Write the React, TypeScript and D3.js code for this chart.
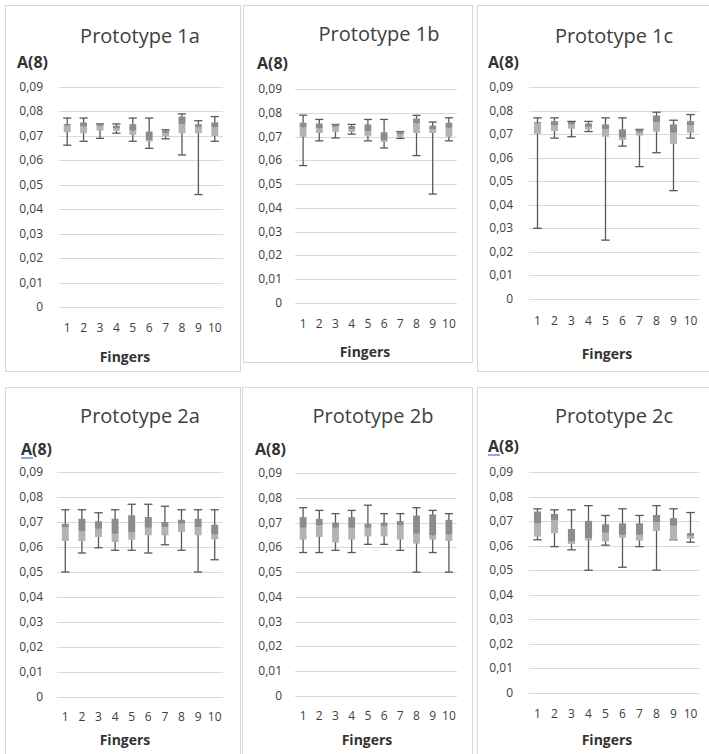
import React from "react";
import * as d3 from "d3";

// finger numbers on the x axis
const fingers = ["1", "2", "3", "4", "5", "6", "7", "8", "9", "10"];
const yTicks = [0, 0.01, 0.02, 0.03, 0.04, 0.05, 0.06, 0.07, 0.08, 0.09];

// each row: [min, q1, median, q3, max]
const proto1a = [
  [0.0662, 0.0715, 0.0742, 0.0749, 0.0773],
  [0.0678, 0.0711, 0.0738, 0.0755, 0.0773],
  [0.069, 0.0722, 0.0741, 0.0749, 0.0749],
  [0.0711, 0.0721, 0.0732, 0.0742, 0.0749],
  [0.0678, 0.0704, 0.0722, 0.0748, 0.0773],
  [0.0649, 0.0677, 0.0683, 0.0718, 0.0773],
  [0.0688, 0.0697, 0.0711, 0.0722, 0.0725],
  [0.0622, 0.0711, 0.0749, 0.0779, 0.079],
  [0.046, 0.0711, 0.0736, 0.0748, 0.0762],
  [0.0678, 0.07, 0.0736, 0.0755, 0.0779],
];
const proto1b = [
  [0.0578, 0.0699, 0.0739, 0.0758, 0.079],
  [0.0682, 0.0715, 0.0735, 0.0755, 0.0772],
  [0.0694, 0.072, 0.0741, 0.0751, 0.0751],
  [0.071, 0.072, 0.0732, 0.0744, 0.0751],
  [0.0682, 0.0701, 0.0723, 0.0751, 0.0772],
  [0.0652, 0.0677, 0.0685, 0.0718, 0.0772],
  [0.0692, 0.0697, 0.071, 0.0721, 0.0721],
  [0.062, 0.0715, 0.0755, 0.0776, 0.0789],
  [0.0458, 0.0715, 0.0732, 0.0746, 0.0761],
  [0.0682, 0.0699, 0.0737, 0.0758, 0.0779],
];
const proto1c = [
  [0.03, 0.0701, 0.0745, 0.0751, 0.0769],
  [0.0683, 0.0713, 0.0737, 0.0755, 0.0769],
  [0.0689, 0.0723, 0.0741, 0.0751, 0.0754],
  [0.0711, 0.072, 0.0731, 0.0745, 0.0754],
  [0.025, 0.0689, 0.0722, 0.0741, 0.0769],
  [0.0649, 0.0675, 0.0686, 0.072, 0.0769],
  [0.0562, 0.0694, 0.0708, 0.072, 0.072],
  [0.0621, 0.071, 0.0751, 0.0779, 0.0793],
  [0.046, 0.0659, 0.0706, 0.0741, 0.0759],
  [0.0683, 0.0706, 0.0737, 0.0755, 0.0783],
];
const proto2a = [
  [0.05, 0.0624, 0.068, 0.0693, 0.0749],
  [0.0576, 0.0624, 0.0663, 0.0713, 0.0749],
  [0.0597, 0.064, 0.0673, 0.0703, 0.0737],
  [0.0587, 0.062, 0.0653, 0.0713, 0.0749],
  [0.0587, 0.0629, 0.066, 0.0727, 0.0771],
  [0.0576, 0.0647, 0.0677, 0.072, 0.0771],
  [0.0609, 0.0647, 0.068, 0.07, 0.0763],
  [0.0587, 0.066, 0.0693, 0.0709, 0.0749],
  [0.05, 0.0647, 0.068, 0.0713, 0.0749],
  [0.0549, 0.0631, 0.0651, 0.0689, 0.0749],
];
const proto2b = [
  [0.0579, 0.0631, 0.0679, 0.0722, 0.076],
  [0.0579, 0.0642, 0.0689, 0.0715, 0.0749],
  [0.0588, 0.0619, 0.0679, 0.07, 0.0736],
  [0.0579, 0.0631, 0.0679, 0.0722, 0.0749],
  [0.0612, 0.0644, 0.0679, 0.0695, 0.077],
  [0.0612, 0.0644, 0.0685, 0.07, 0.0736],
  [0.0588, 0.0631, 0.0689, 0.0706, 0.0736],
  [0.05, 0.0615, 0.0655, 0.0728, 0.076],
  [0.0579, 0.0631, 0.0648, 0.0733, 0.0749],
  [0.05, 0.0626, 0.0652, 0.0711, 0.0736],
];
const proto2c = [
  [0.0624, 0.0637, 0.0691, 0.0739, 0.075],
  [0.0596, 0.0651, 0.0705, 0.0729, 0.0746],
  [0.0583, 0.0607, 0.0617, 0.0668, 0.0746],
  [0.05, 0.0621, 0.063, 0.0701, 0.0763],
  [0.0602, 0.0617, 0.0653, 0.0687, 0.0723],
  [0.0512, 0.0633, 0.0644, 0.0691, 0.075],
  [0.0596, 0.0621, 0.0644, 0.0691, 0.0723],
  [0.05, 0.066, 0.0696, 0.0725, 0.0763],
  [0.0624, 0.0624, 0.0681, 0.0712, 0.075],
  [0.0614, 0.0628, 0.064, 0.0651, 0.0735],
];

const panels = [
  { title: "Prototype 1a", data: proto1a, frame: [5, 5, 240, 371], gx: [59, 223], gy: [307, 87], titleX: 140, titleY: 43, aX: 17, aY: 68, tickX: 43, xlabY: 332, fx: 125, fy: 362, squiggle: false },
  { title: "Prototype 1b", data: proto1b, frame: [243, 5, 472, 362], gx: [295, 457], gy: [303, 89], titleX: 379, titleY: 41, aX: 257, aY: 69, tickX: 282, xlabY: 328, fx: 365, fy: 357, squiggle: false },
  { title: "Prototype 1c", data: proto1c, frame: [477, 5, 712, 371], gx: [529, 699], gy: [299, 87], titleX: 614, titleY: 43, aX: 488, aY: 68, tickX: 513, xlabY: 325, fx: 607, fy: 359, squiggle: false },
  { title: "Prototype 2a", data: proto2a, frame: [5, 387, 240, 760], gx: [57, 223], gy: [697, 472], titleX: 140, titleY: 423, aX: 21, aY: 455, tickX: 43, xlabY: 721, fx: 125, fy: 745, squiggle: true },
  { title: "Prototype 2b", data: proto2b, frame: [242, 387, 472, 760], gx: [295, 457], gy: [696, 473], titleX: 373, titleY: 423, aX: 255, aY: 455, tickX: 282, xlabY: 720, fx: 367, fy: 745, squiggle: false },
  { title: "Prototype 2c", data: proto2c, frame: [477, 387, 712, 760], gx: [529, 699], gy: [693, 472], titleX: 614, titleY: 423, aX: 488, aY: 452, tickX: 513, xlabY: 718, fx: 607, fy: 745, squiggle: true },
];

const fmt = (v: number) => (v === 0 ? "0" : d3.format(".2f")(v).replace(".", ","));

const font = "'Open Sans', 'Liberation Sans', sans-serif";

function Panel({ p }: { p: any }) {
  const x = d3.scaleBand().domain(fingers).range(p.gx).paddingInner(0).paddingOuter(0);
  const y = d3.scaleLinear().domain([0, 0.09]).range(p.gy);
  const bw = x.bandwidth() * 0.42;
  const cap = x.bandwidth() * 0.5;
  const [fx0, fy0, fx1, fy1] = p.frame;
  return (
    <g>
      <rect x={fx0 + 0.5} y={fy0 + 0.5} width={fx1 - fx0} height={fy1 - fy0} fill="#fff" stroke="#d9d9d9" />
      <text x={p.titleX} y={p.titleY} textAnchor="middle" fontSize={20} fill="#404040" fontFamily={font}>{p.title}</text>
      <text x={p.aX} y={p.aY} fontSize={16} fontWeight="bold" fill="#333" fontFamily={font}>A(8)</text>
      {p.squiggle && <line x1={p.aX} x2={p.aX + 12} y1={p.aY + 3} y2={p.aY + 3} stroke="#4472c4" strokeWidth={1.2} />}
      {yTicks.map((t) => (
        <g key={t}>
          <line x1={p.gx[0]} x2={p.gx[1]} y1={Math.round(y(t)) + 0.5} y2={Math.round(y(t)) + 0.5} stroke="#d9d9d9" />
          <text x={p.tickX} y={y(t) + 4} textAnchor="end" fontSize={12} fill="#404040" fontFamily={font}>{fmt(t)}</text>
        </g>
      ))}
      {fingers.map((f) => (
        <text key={f} x={(x(f) as number) + x.bandwidth() / 2} y={p.xlabY} textAnchor="middle" fontSize={12} fill="#404040" fontFamily={font}>{f}</text>
      ))}
      <text x={p.fx} y={p.fy} textAnchor="middle" fontSize={14} fontWeight="bold" fill="#333" fontFamily={font}>Fingers</text>
      {p.data.map((d: number[], i: number) => {
        const cx = (x(fingers[i]) as number) + x.bandwidth() / 2;
        const [mn, q1, md, q3, mx] = d;
        return (
          <g key={i}>
            <line x1={cx} x2={cx} y1={y(mn)} y2={y(mx)} stroke="#595959" strokeWidth={1.3} />
            <line x1={cx - cap / 2} x2={cx + cap / 2} y1={y(mn)} y2={y(mn)} stroke="#595959" strokeWidth={1.3} />
            <line x1={cx - cap / 2} x2={cx + cap / 2} y1={y(mx)} y2={y(mx)} stroke="#595959" strokeWidth={1.3} />
            <rect x={cx - bw / 2} y={y(md)} width={bw} height={y(q1) - y(md)} fill="#b3b3b3" />
            <rect x={cx - bw / 2} y={y(q3)} width={bw} height={y(md) - y(q3)} fill="#8c8c8c" />
          </g>
        );
      })}
    </g>
  );
}

export default function App() {
  return (
    <svg width={709} height={754} style={{ position: "absolute", left: 0, top: 0, background: "#fff" }}>
      <rect width={709} height={754} fill="#fff" />
      {panels.map((p) => (
        <Panel key={p.title} p={p} />
      ))}
    </svg>
  );
}
